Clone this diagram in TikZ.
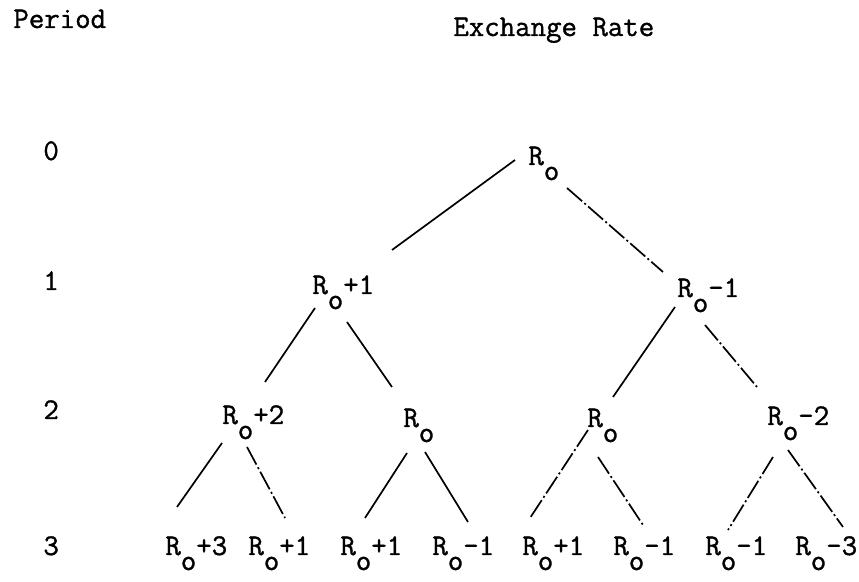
\documentclass[tikz,border=0pt]{standalone}
\usepackage{fontspec}
\newfontfamily\typefont[FakeBold=1.2]{Latin Modern Mono}
\usetikzlibrary{calc}
\tikzset{
  rate/.style={anchor=base west,inner sep=0pt,font=\typefont\fontsize{15}{17}\selectfont},
  period/.style={rate},
  branch/.style={line width=0.85pt},
  worn/.style={branch,dash pattern=on 10pt off 1.5pt on 1pt off 1.5pt}
}
\newcommand{\Rsub}{R\raisebox{-7.5pt}{o}}

\begin{document}
\begin{tikzpicture}[x=0.5pt,y=-0.5pt]
  \useasboundingbox (0,0) rectangle (859,582);
  % headings
  \node[rate] (period) at (13,28) {Period};
  \node[rate] (exch) at (453,36) {Exchange Rate};
  % period numbers
  \node[period] (p0) at (43,160) {0};
  \node[period] (p1) at (43,290) {1};
  \node[period] (p2) at (43,419) {2};
  \node[period] (p3) at (43,555) {3};
  % tree
  \node[rate] (r0) at (528,165) {\Rsub};
  \node[rate] (r1u) at (312,294) {\Rsub+1};
  \node[rate] (r1d) at (677,297) {\Rsub\textendash1};
  \node[rate] (r2a) at (222,424) {\Rsub+2};
  \node[rate] (r2b) at (403,427) {\Rsub};
  \node[rate] (r2c) at (587,427) {\Rsub};
  \node[rate] (r2d) at (767,425) {\Rsub\textendash2};
  \node[rate] (r3a) at (165,555) {\Rsub+3};
  \node[rate] (r3b) at (248,555) {\Rsub+1};
  \node[rate] (r3c) at (340,555) {\Rsub+1};
  \node[rate] (r3d) at (432,555) {\Rsub\textendash1};
  \node[rate] (r3e) at (522,555) {\Rsub+1};
  \node[rate] (r3f) at (613,555) {\Rsub\textendash1};
  \node[rate] (r3g) at (705,555) {\Rsub\textendash1};
  \node[rate] (r3h) at (795,555) {\Rsub\textendash3};
  % branches
  \draw[branch] ([shift={(-13,-5)}]r0.base west) -- ([shift={(80,-44)}]r1u.base west);
  \draw[worn] ([shift={(39,23)}]r0.base west) -- ([shift={(-14,-25)}]r1d.base west);
  \draw[branch] ([shift={(3,14)}]r1u.base west) -- ([shift={(43,-42)}]r2a.base west);
  \draw[branch] ([shift={(35,28)}]r1u.base west) -- ([shift={(-11,-40)}]r2b.base west);
  \draw[branch] ([shift={(-2,10)}]r1d.base west) -- ([shift={(26,-30)}]r2c.base west);
  \draw[worn] ([shift={(28,28)}]r1d.base west) -- ([shift={(-10,-38)}]r2d.base west);
  \draw[branch] ([shift={(0,19)}]r2a.base west) -- ([shift={(12,-48)}]r3a.base west);
  \draw[worn] ([shift={(25,23)}]r2a.base west) -- ([shift={(37,-37)}]r3b.base west);
  \draw[branch] ([shift={(4,26)}]r2b.base west) -- ([shift={(25,-37)}]r3c.base west);
  \draw[branch] ([shift={(22,25)}]r2b.base west) -- ([shift={(36,-33)}]r3d.base west);
  \draw[worn] ([shift={(1,3)}]r2c.base west) -- ([shift={(8,-37)}]r3e.base west);
  \draw[worn] ([shift={(11,30)}]r2c.base west) -- ([shift={(30,-30)}]r3f.base west);
  \draw[worn] ([shift={(6,32)}]r2d.base west) -- ([shift={(23,-25)}]r3g.base west);
  \draw[worn] ([shift={(21,25)}]r2d.base west) -- ([shift={(48,-28)}]r3h.base west);
\end{tikzpicture}
\end{document}
